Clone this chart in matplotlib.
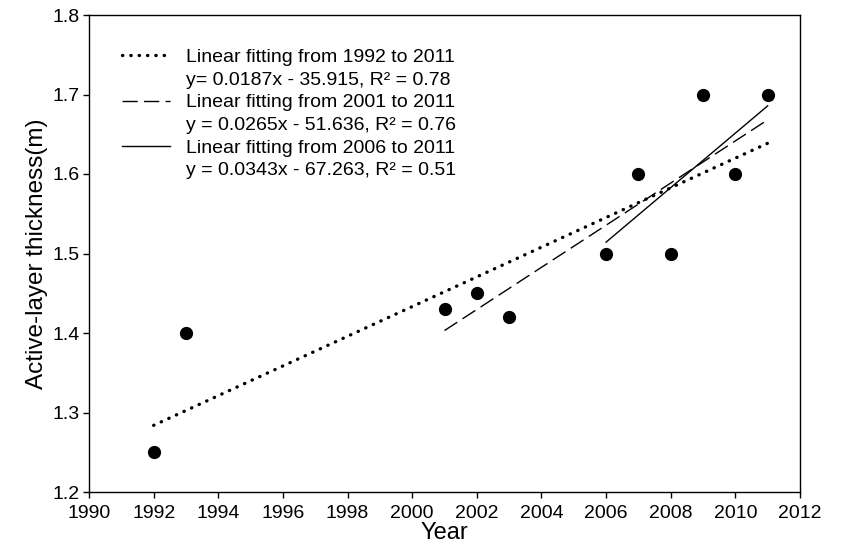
import numpy as np
import matplotlib
matplotlib.use("Agg")
import matplotlib.pyplot as plt
from matplotlib.lines import Line2D

plt.rcParams['font.family'] = ['Liberation Sans', 'DejaVu Sans']

# Observed active-layer thickness by year
years = [1992, 1993, 2001, 2002, 2003, 2006, 2007, 2008, 2009, 2010, 2011]
thickness = [1.25, 1.40, 1.43, 1.45, 1.42, 1.50, 1.60, 1.50, 1.70, 1.60, 1.70]

# Start years of the three linear fits (all end in 2011)
fit_starts = [1992, 2001, 2006]
fit_titles = ["Linear fitting from 1992 to 2011",
              "Linear fitting from 2001 to 2011",
              "Linear fitting from 2006 to 2011"]
fit_equations = ["y= 0.0187x - 35.915, R\u00b2 = 0.78",
                 "y = 0.0265x - 51.636, R\u00b2 = 0.76",
                 "y = 0.0343x - 67.263, R\u00b2 = 0.51"]

x_ticks = list(range(1990, 2013, 2))
y_ticks = [1.2, 1.3, 1.4, 1.5, 1.6, 1.7, 1.8]

fig = plt.figure(figsize=(8.41, 5.46), dpi=100)
ax = fig.add_axes([89 / 841, 1 - 492 / 546, 711 / 841, 477 / 546])

xs = np.array(years, dtype=float)
ys = np.array(thickness)

styles = [
    dict(color='black', lw=2.4, linestyle=(0, (0.1, 2.4)), dash_capstyle='round'),
    dict(color='black', lw=1.0, linestyle=(0, (11, 4.5))),
    dict(color='black', lw=1.0, linestyle='-'),
]

fit_lines = []
for start, st in zip(fit_starts, styles):
    m = xs >= start
    slope, icpt = np.polyfit(xs[m], ys[m], 1)
    xx = np.array([xs[m].min(), xs[m].max()])
    ln, = ax.plot(xx, slope * xx + icpt, **st)
    fit_lines.append(ln)

ax.plot(years, thickness, 'o', color='black', markersize=8.5, zorder=5)

ax.set_xlim(1990, 2012)
ax.set_ylim(1.2, 1.8)
ax.set_xticks(x_ticks)
ax.set_yticks(y_ticks)
ax.set_yticklabels([f"{v:.1f}" for v in y_ticks])
ax.tick_params(direction='out', length=4.0, width=1.0, labelsize=14,
               top=False, right=False, pad=3)
ax.tick_params(axis='x', pad=5)
for s in ax.spines.values():
    s.set_linewidth(1.0)

ax.set_xlabel("Year", fontsize=17, labelpad=0.5)
ax.set_ylabel("Active-layer thickness(m)", fontsize=17.5, labelpad=3)

blank = Line2D([], [], linestyle='none')
handles, labels = [], []
for ln, t, e in zip(fit_lines, fit_titles, fit_equations):
    handles += [ln, blank]
    labels += [t, e]
ax.legend(handles, labels, loc='upper left', frameon=False, fontsize=14,
          handlelength=2.47, handletextpad=0.82, labelspacing=0.26,
          borderpad=0, borderaxespad=0, bbox_to_anchor=(0.0464, 0.93))

fig.savefig("out.png", dpi=100)
